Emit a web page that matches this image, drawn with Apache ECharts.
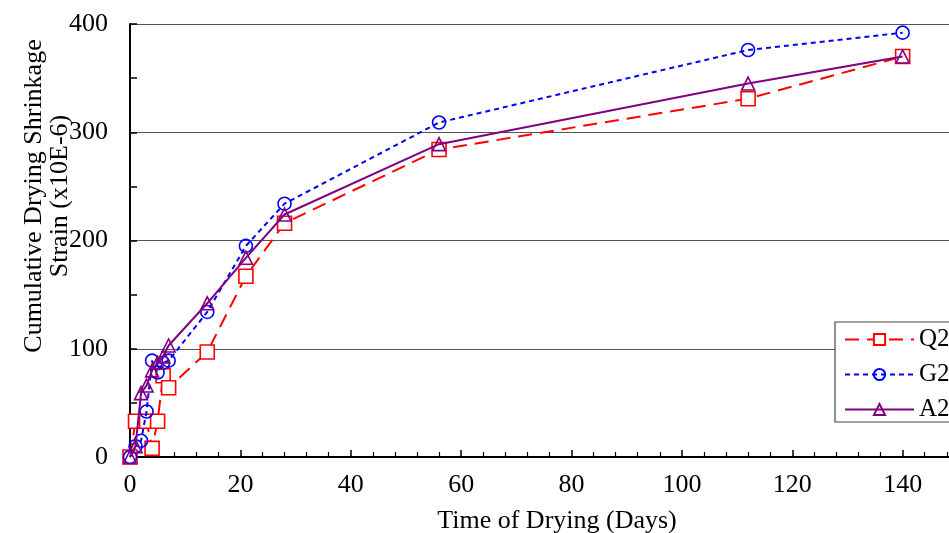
<!DOCTYPE html>
<html>
<head>
<meta charset="utf-8">
<script src="https://cdn.jsdelivr.net/npm/echarts@6/dist/echarts.min.js"></script>
<style>html,body{margin:0;padding:0;background:#fff;}#c{width:949px;height:533px;}</style>
</head>
<body>
<div id="c"></div>
<script>
const seriesNames = ['Q2', 'G2', 'A2'];
const q2Days = [0, 1, 3, 4, 5, 6, 7, 14, 21, 28, 56, 112, 140];
const q2Vals = [0, 33, 33, 8, 33, 75, 64, 97, 167, 216, 284, 331, 370];
const g2Days = [0, 1, 2, 3, 4, 5, 6, 7, 14, 21, 28, 56, 112, 140];
const g2Vals = [0, 10, 15, 42, 89, 78, 87, 89, 134, 195, 234, 309, 376, 392];
const a2Days = [0, 1, 2, 3, 4, 5, 6, 7, 14, 21, 28, 56, 112, 140];
const a2Vals = [0, 10, 59, 66, 80, 87, 93, 103, 142, 184, 224, 289, 345, 370];
const xTitle = 'Time of Drying (Days)';
const yTitle = 'Cumulative Drying Shrinkage\nStrain (x10E-6)';

const pair = (d, v) => d.map((x, i) => [x, v[i]]);
const font = 'Liberation Serif';
const chart = echarts.init(document.getElementById('c'));
chart.setOption({
  animation: false,
  backgroundColor: '#fff',
  textStyle: { fontFamily: font },
  grid: { left: 130, top: 24, bottom: 76, width: 883, containLabel: false, outerBoundsMode: 'none' },
  xAxis: [{
    type: 'value', min: 0, max: 160, interval: 20,
    axisLine: { show: true, onZero: false, lineStyle: { color: '#000', width: 2 } },
    axisTick: { show: true, inside: true, length: 7, lineStyle: { color: '#000', width: 1.5 } },
    minorTick: { show: true, splitNumber: 5, length: 5, lineStyle: { color: '#000', width: 1.2 } },
    axisLabel: { fontFamily: font, fontSize: 26, color: '#000', margin: 15 },
    splitLine: { show: false }
  }, {
    type: 'value', position: 'top', min: 0, max: 160,
    axisLine: { show: true, lineStyle: { color: '#000', width: 2 } },
    axisTick: { show: false }, axisLabel: { show: false }, splitLine: { show: false }
  }],
  yAxis: {
    type: 'value', min: 0, max: 400, interval: 100,
    axisLine: { show: true, lineStyle: { color: '#000', width: 2 } },
    axisTick: { show: true, inside: true, length: 7, lineStyle: { color: '#000', width: 1.5 } },
    minorTick: { show: true, splitNumber: 2, length: 7, lineStyle: { color: '#000', width: 1.5 } },
    axisLabel: { fontFamily: font, fontSize: 26, color: '#000', margin: 22 },
    splitLine: { show: true, lineStyle: { color: '#555', width: 1 } }
  },
  graphic: [{
    type: 'text', x: 557, y: 521,
    style: { text: xTitle, fontFamily: font, fontSize: 26, fill: '#000', textAlign: 'center', textVerticalAlign: 'middle' }
  }, {
    type: 'text', x: 47, y: 196, rotation: Math.PI / 2,
    style: { text: yTitle, fontFamily: font, fontSize: 26, lineHeight: 26, fill: '#000', textAlign: 'center', textVerticalAlign: 'middle' }
  }],
  legend: {
    orient: 'vertical', left: 835, top: 322,
    backgroundColor: '#fff', borderColor: '#444', borderWidth: 1.2, borderRadius: 0,
    padding: [5, 40, 0, 9], itemGap: 10, itemWidth: 69, itemHeight: 14,
    textStyle: { fontFamily: font, fontSize: 25, color: '#000', padding: [0, 0, 0, 0] },
    data: seriesNames
  },
  series: [{
    name: seriesNames[0], type: 'line', data: pair(q2Days, q2Vals),
    symbol: 'rect', symbolSize: 14,
    lineStyle: { color: '#ff0000', width: 2, type: [14, 8] },
    itemStyle: { color: '#fff', borderColor: '#ff0000', borderWidth: 1.6 },
    z: 3
  }, {
    name: seriesNames[1], type: 'line', data: pair(g2Days, g2Vals),
    symbol: 'circle', symbolSize: 13,
    lineStyle: { color: '#0000ff', width: 2, type: [5, 4] },
    itemStyle: { color: 'rgba(255,255,255,0)', borderColor: '#0000ff', borderWidth: 1.6 },
    z: 4
  }, {
    name: seriesNames[2], type: 'line', data: pair(a2Days, a2Vals),
    symbol: 'triangle', symbolSize: 13,
    lineStyle: { color: '#800080', width: 2 },
    itemStyle: { color: 'rgba(255,255,255,0)', borderColor: '#800080', borderWidth: 1.6 },
    z: 5
  }]
});
</script>
</body>
</html>
